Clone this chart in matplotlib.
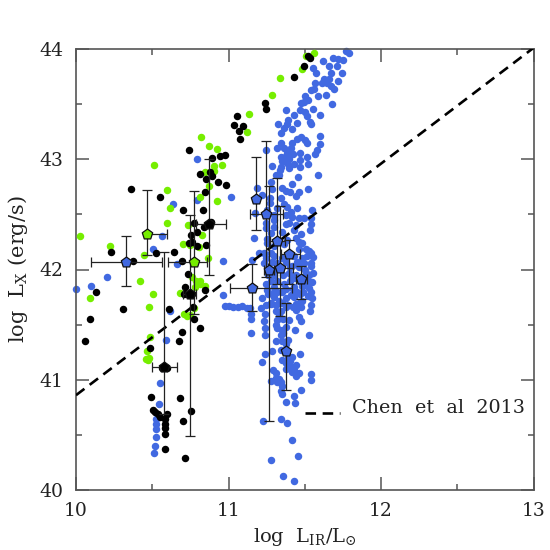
import matplotlib
matplotlib.use("Agg")
import matplotlib.pyplot as plt
from matplotlib.ticker import MultipleLocator

plt.rcParams['font.family'] = ['DejaVu Serif']
plt.rcParams['mathtext.fontset'] = 'dejavuserif'

blue_color = '#4169e1'
green_color = '#76ee00'
text_color = '#222222'

blue_x = [11.770, 11.792, 11.748, 11.715, 11.688, 11.620, 11.660, 11.710, 11.557, 11.671, 11.741, 11.572,
          11.627, 11.660, 11.719, 11.566, 11.610, 11.649, 11.671, 11.693, 11.539, 11.561, 11.638, 11.588,
          11.500, 11.522, 11.495, 11.474, 11.680, 11.557, 11.377, 11.467, 11.500, 11.430, 11.598, 11.517,
          11.390, 11.447, 11.533, 11.327, 11.539, 11.386, 11.364, 11.417, 11.346, 11.598, 11.474, 11.447,
          11.500, 11.419, 11.517, 11.598, 11.346, 11.316, 11.364, 11.408, 11.248, 11.579, 11.467, 11.386,
          11.423, 11.568, 11.342, 11.370, 11.517, 11.397, 11.469, 11.353, 11.386, 11.522, 11.430, 11.287,
          11.346, 11.469, 11.397, 11.338, 11.309, 11.331, 11.590, 11.458, 11.276, 11.417, 11.353, 11.188,
          11.287, 11.520, 11.375, 11.403, 11.463, 11.441, 11.217, 11.272, 11.272, 11.342, 11.364, 11.386,
          11.447, 11.320, 11.408, 11.550, 11.177, 11.254, 11.419, 11.463, 11.375, 11.539, 11.495, 11.298,
          11.298, 11.243, 11.375, 11.397, 11.441, 11.539, 11.298, 11.535, 11.243, 11.430, 11.353, 11.474,
          11.166, 11.250, 11.276, 11.441, 11.386, 11.463, 11.254, 11.484, 11.364, 11.298, 11.506, 11.463,
          11.528, 11.199, 11.232, 11.156, 11.539, 11.557, 11.276, 11.298, 11.243, 11.430, 11.484, 11.517,
          11.232, 11.287, 11.320, 11.375, 11.452, 11.495, 11.539,
          11.539, 11.557, 11.550, 11.506, 11.506, 11.528, 11.550, 11.539, 11.539, 11.535, 11.419, 11.419,
          11.397, 11.430, 11.430, 11.408, 11.441, 11.474, 11.484, 11.441, 11.463, 11.474, 11.436, 11.528,
          11.243, 11.254, 11.221, 11.243, 11.210, 11.239, 11.298, 11.298, 11.276, 11.320, 11.331, 11.309,
          11.364, 11.375, 11.375, 11.342, 11.232, 11.239, 11.239, 11.320, 11.320, 11.353, 11.342, 11.397,
          11.309, 11.353, 11.390, 11.287, 11.237, 11.217, 11.467, 11.342, 11.375, 11.353, 11.375, 11.419,
          11.441, 11.408, 11.463, 11.441, 11.419, 11.375, 11.539, 11.539, 11.276, 11.294, 11.309, 11.331,
          11.342, 11.353, 11.342, 11.353, 11.478, 11.430, 11.379, 11.436, 11.226, 11.346, 11.386, 11.417,
          11.458, 11.276, 11.357, 11.427,
          10.794, 11.015, 10.634, 10.794, 10.564, 10.502, 10.662, 10.965, 10.202, 10.101, 10.000, 10.965,
          10.614, 10.592, 10.553, 10.542, 10.525, 10.522, 10.522, 10.522, 10.521, 10.512, 10.974, 11.000,
          11.030, 11.060, 11.090, 11.120, 11.140, 11.145, 11.145, 11.147,
          11.26, 11.28, 11.30, 11.32, 11.36, 11.40, 11.44, 11.46, 11.48, 11.52, 11.53, 11.26,
          11.30, 11.35, 11.38, 11.42, 11.45, 11.47, 11.49, 11.52, 11.28, 11.31, 11.35, 11.39,
          11.42, 11.46, 11.33, 11.36, 11.31, 11.38, 11.36, 11.39, 11.40, 11.43, 11.31, 11.32,
          11.29, 11.35, 11.40, 11.46, 11.50, 11.43]
blue_y = [43.98, 43.96, 43.90, 43.91, 43.915, 43.89, 43.85, 43.85, 43.825, 43.785, 43.78, 43.78,
          43.73, 43.725, 43.71, 43.695, 43.695, 43.69, 43.66, 43.64, 43.63, 43.635, 43.58, 43.57,
          43.57, 43.54, 43.52, 43.51, 43.50, 43.46, 43.45, 43.45, 43.43, 43.40, 43.40, 43.39,
          43.36, 43.33, 43.34, 43.32, 43.32, 43.32, 43.28, 43.27, 43.235, 43.21, 43.20, 43.18,
          43.175, 43.15, 43.145, 43.14, 43.145, 43.10, 43.10, 43.10, 43.08, 43.085, 43.06, 43.055,
          43.05, 43.05, 43.02, 43.02, 43.02, 43.00, 42.99, 42.98, 42.97, 42.96, 42.96, 42.94,
          42.93, 42.93, 42.92, 42.90, 42.86, 42.86, 42.86, 42.84, 42.79, 42.78, 42.74, 42.74,
          42.73, 42.73, 42.71, 42.70, 42.70, 42.67, 42.675, 42.65, 42.60, 42.65, 42.59, 42.57,
          42.56, 42.555, 42.52, 42.54, 42.51, 42.54, 42.48, 42.47, 42.495, 42.47, 42.465, 42.49,
          42.45, 42.42, 42.41, 42.425, 42.40, 42.41, 42.39, 42.36, 42.375, 42.36, 42.34, 42.32,
          42.29, 42.28, 42.33, 42.29, 42.27, 42.245, 42.24, 42.24, 42.23, 42.21, 42.19, 42.19,
          42.17, 42.15, 42.15, 42.09, 42.15, 42.11, 42.15, 42.12, 42.10, 42.12, 42.10, 42.12,
          42.06, 42.07, 42.06, 42.07, 42.07, 42.06, 42.06,
          42.03, 41.965, 41.89, 41.965, 41.86, 41.83, 41.74, 41.80, 41.68, 41.62, 42.03, 41.935,
          41.965, 41.84, 41.75, 41.77, 41.69, 41.66, 41.71, 41.63, 41.57, 41.53, 41.45, 41.41,
          41.87, 41.81, 41.74, 41.68, 41.65, 41.60, 41.84, 41.75, 41.69, 41.80, 41.71, 41.62,
          41.87, 41.74, 41.66, 41.62, 41.53, 41.47, 41.41, 41.54, 41.47, 41.45, 41.41, 41.54,
          41.35, 41.35, 41.36, 41.26, 41.23, 41.16, 41.23, 41.27, 41.32, 41.18, 41.15, 41.21,
          41.13, 41.12, 41.06, 41.03, 41.07, 41.10, 41.05, 40.997, 40.99, 41.09, 41.06, 41.01,
          40.98, 40.94, 40.90, 40.87, 40.91, 40.85, 40.80, 40.79, 40.63, 40.64, 40.61, 40.45,
          40.31, 40.27, 40.13, 40.08,
          43.00, 42.66, 42.59, 42.63, 42.30, 42.19, 42.05, 42.08, 41.93, 41.85, 41.82, 41.77,
          41.62, 41.36, 40.97, 40.78, 40.64, 40.60, 40.55, 40.48, 40.40, 40.34, 41.67, 41.67,
          41.66, 41.66, 41.67, 41.65, 41.65, 41.60, 41.55, 41.42,
          41.95, 41.90, 41.95, 41.90, 41.95, 41.90, 41.95, 41.90, 41.85, 41.90, 41.95, 41.78,
          41.80, 41.80, 41.82, 41.82, 41.80, 41.78, 41.80, 41.76, 41.70, 41.68, 41.70, 41.68,
          41.66, 41.70, 41.58, 41.55, 41.50, 41.48, 41.42, 41.20, 41.17, 41.09, 41.02, 40.98,
          42.00, 42.10, 42.02, 42.02, 42.00, 41.92]

green_x = [11.134, 11.123, 10.822, 10.875, 10.925, 10.903, 10.956, 10.513, 10.844, 10.903, 10.875, 10.594,
           10.816, 10.925, 10.614, 10.594, 10.733, 10.827, 10.028, 10.704, 10.746, 10.805, 10.222, 10.443,
           10.864, 10.761, 10.789, 10.816, 10.783, 10.844, 10.811, 10.421, 10.504, 10.680, 10.090, 10.480,
           10.772, 10.706, 10.728, 10.750, 10.482, 10.465, 10.480, 10.469, 10.460, 11.561, 11.506, 11.484,
           11.338, 11.285]
green_y = [43.41, 43.25, 43.20, 43.12, 43.09, 42.94, 42.95, 42.95, 42.88, 42.89, 42.76, 42.72,
           42.66, 42.62, 42.56, 42.42, 42.40, 42.31, 42.30, 42.23, 42.22, 42.20, 42.21, 42.13,
           42.10, 41.93, 41.90, 41.90, 41.84, 41.85, 41.87, 41.90, 41.78, 41.79, 41.74, 41.66,
           41.65, 41.60, 41.58, 41.59, 41.39, 41.26, 41.20, 41.18, 41.19, 43.96, 43.94, 43.82,
           43.74, 43.58]

black_x = [11.057, 11.035, 11.096, 11.068, 11.075, 10.743, 10.895, 10.943, 10.974, 10.816, 10.877, 10.890,
           10.855, 10.934, 10.985, 10.844, 10.362, 10.553, 10.704, 10.833, 10.776, 10.882, 10.864, 10.838,
           10.794, 10.754, 10.761, 10.739, 10.794, 10.855, 10.643, 10.524, 10.230, 10.371, 10.693,
           10.735, 10.715, 10.706, 10.739, 10.761, 10.844, 10.132, 10.311, 10.607, 10.765, 10.090, 10.776,
           10.816, 10.693, 10.673, 10.059, 10.482, 10.579, 10.565, 10.595, 10.491, 10.684, 10.754, 10.504,
           10.520, 10.537, 10.553, 10.596, 10.581, 10.583, 10.586, 10.583, 10.704, 10.583, 10.715,
           11.533, 11.522, 11.498, 11.427, 11.237, 11.248]
black_y = [43.39, 43.31, 43.30, 43.26, 43.18, 43.08, 43.01, 43.03, 43.04, 42.87, 42.88, 42.85,
           42.82, 42.79, 42.77, 42.70, 42.73, 42.66, 42.54, 42.54, 42.42, 42.43, 42.41, 42.39,
           42.34, 42.31, 42.25, 42.24, 42.21, 42.22, 42.16, 42.15, 42.16, 42.08, 42.08,
           41.96, 41.84, 41.78, 41.77, 41.78, 41.81, 41.80, 41.64, 41.64, 41.66, 41.55, 41.55,
           41.47, 41.43, 41.35, 41.35, 41.29, 41.12, 41.11, 41.11, 40.84, 40.83, 40.72, 40.73,
           40.71, 40.69, 40.66, 40.69, 40.64, 40.60, 40.56, 40.51, 40.63, 40.37, 40.29,
           43.92, 43.94, 43.85, 43.75, 43.51, 43.46]

# binned points: value, then low and high ends of the bars
bin_blue_x = [10.33, 11.182, 11.248, 11.320, 11.397, 11.265, 11.337, 11.476, 11.156, 11.379]
bin_blue_y = [42.07, 42.64, 42.50, 42.26, 42.14, 42.00, 42.01, 41.91, 41.83, 41.26]
bin_blue_xlo = [10.10, 11.182, 11.14, 11.27, 11.342, 11.23, 11.26, 11.44, 11.008, 11.379]
bin_blue_xhi = [10.564, 11.182, 11.357, 11.37, 11.467, 11.30, 11.42, 11.515, 11.419, 11.379]
bin_blue_ylo = [41.85, 42.36, 41.93, 41.87, 41.87, 40.63, 41.58, 41.73, 41.62, 40.91]
bin_blue_yhi = [42.30, 43.02, 43.17, 42.83, 42.27, 42.76, 42.58, 42.03, 42.05, 41.70]

bin_green_x = [10.463, 10.774]
bin_green_y = [42.32, 42.07]
bin_green_xlo = [10.463, 10.60]
bin_green_xhi = [10.594, 10.86]
bin_green_ylo = [42.13, 41.60]
bin_green_yhi = [42.72, 42.715]

bin_black_x = [10.87, 10.745, 10.579]
bin_black_y = [42.41, 41.78, 41.12]
bin_black_xlo = [10.79, 10.70, 10.497]
bin_black_xhi = [10.985, 10.79, 10.66]
bin_black_ylo = [41.95, 40.49, 40.69]
bin_black_yhi = [43.00, 42.49, 42.16]

chen_x = [10, 13]
chen_y = [40.86, 44.01]
key_x = [11.5, 11.73]
key_y = [40.70, 40.70]


def draw_bins(ax, x, y, xlo, xhi, ylo, yhi, color):
    xerr = [[a - b for a, b in zip(x, xlo)], [b - a for a, b in zip(x, xhi)]]
    yerr = [[a - b for a, b in zip(y, ylo)], [b - a for a, b in zip(y, yhi)]]
    ax.errorbar(x, y, xerr=xerr, yerr=yerr, fmt='none', ecolor='#222222', elinewidth=0.9,
                capsize=3.5, capthick=0.9, zorder=5)
    ax.scatter(x, y, marker='p', s=62, c=color, edgecolors='#111111', linewidths=0.9, zorder=6)


fig = plt.figure(figsize=(5.5, 5.5), dpi=100)
ax = fig.add_axes([76 / 550, 60 / 550, 457.5 / 550, 441 / 550])

ax.scatter(blue_x, blue_y, s=29, c=blue_color, linewidths=0, zorder=2, clip_on=False)
ax.scatter(green_x, green_y, s=29, c=green_color, linewidths=0, zorder=3)
ax.scatter(black_x, black_y, s=29, c='black', linewidths=0, zorder=4)

ax.plot(chen_x, chen_y, color='black', lw=1.9, dashes=(4, 2.5), zorder=4)
ax.plot(key_x, key_y, color='black', lw=1.9, dashes=(4, 2.5))
ax.text(11.81, 40.74, 'Chen  et  al  2013', fontsize=13.8, va='center', ha='left', color=text_color)

draw_bins(ax, bin_blue_x, bin_blue_y, bin_blue_xlo, bin_blue_xhi, bin_blue_ylo, bin_blue_yhi, blue_color)
draw_bins(ax, bin_green_x, bin_green_y, bin_green_xlo, bin_green_xhi, bin_green_ylo, bin_green_yhi, green_color)
draw_bins(ax, bin_black_x, bin_black_y, bin_black_xlo, bin_black_xhi, bin_black_ylo, bin_black_yhi, 'black')

ax.set_xlim(10, 13)
ax.set_ylim(40, 44)
ax.xaxis.set_major_locator(MultipleLocator(1))
ax.xaxis.set_minor_locator(MultipleLocator(0.5))
ax.yaxis.set_major_locator(MultipleLocator(1))
ax.yaxis.set_minor_locator(MultipleLocator(0.5))
ax.tick_params(which='both', direction='in', top=True, right=True, color='#555555', width=1.1)
ax.tick_params(which='major', length=9.5, labelsize=13.5, labelcolor=text_color)
ax.tick_params(axis='x', which='major', pad=9)
ax.tick_params(axis='y', which='major', pad=9)
ax.tick_params(which='minor', length=4.5)
for s in ax.spines.values():
    s.set_linewidth(1.2)
    s.set_color('#555555')

ax.set_xlabel(r'log  L$_{\mathrm{IR}}$/L$_{\odot}$', fontsize=14, labelpad=4, color=text_color)
ax.set_ylabel(r'log  L$_{\mathrm{X}}$ (erg/s)', fontsize=15, labelpad=7, color=text_color)

fig.savefig('out.png', dpi=100)
